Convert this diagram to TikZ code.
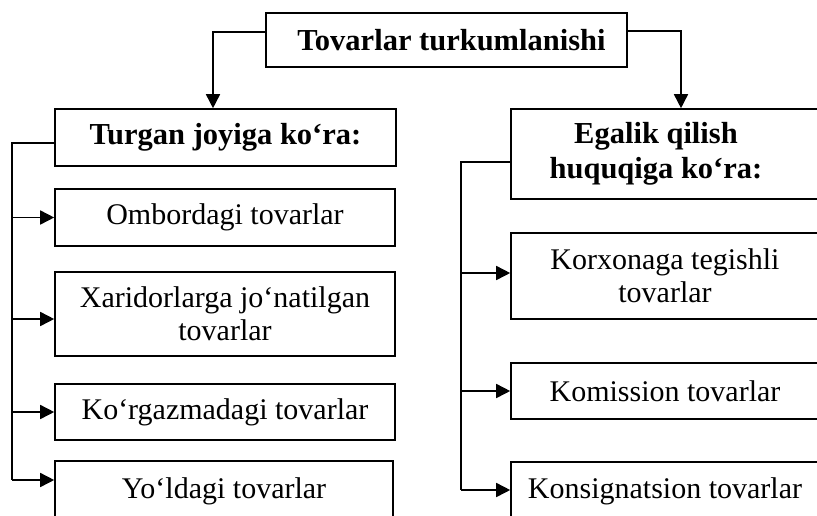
\documentclass[tikz,border=0pt]{standalone}
\usepackage{fontspec}
\setmainfont{Liberation Serif}
\usetikzlibrary{arrows.meta}
\begin{document}
\begin{tikzpicture}[x=1pt,y=-1pt,
  box/.style={draw,line width=1.6pt,rectangle,inner sep=0pt,align=center,
    font=\fontsize{30}{33}\selectfont},
  hbox/.style={box,font=\fontsize{30.5}{35}\selectfont\bfseries},
  htext/.style={inner sep=0pt,align=center,font=\fontsize{30.5}{35}\selectfont\bfseries},
  link/.style={line width=1.6pt},
  arr/.style={line width=1.6pt,-{Triangle[length=14pt,width=14pt]}}]
\useasboundingbox (0,0) rectangle (817,515);
\clip (0,0) rectangle (817,515);
% top
\node[hbox,minimum width=361pt,minimum height=54pt] (top) at (446.5,40) {};
\node[htext] (toptext) at ([xshift=5pt]top.center) {Tovarlar turkumlanishi};
% left column
\node[hbox,minimum width=341pt,minimum height=57pt] (lh) at (225.5,137.5) {Turgan joyiga ko‘ra:};
\node[box,minimum width=340pt,minimum height=57pt] (omb) at (225,217.5) {Ombordagi tovarlar};
\node[box,minimum width=340pt,minimum height=84pt] (xar) at (225,314) {Xaridorlarga jo‘natilgan\\tovarlar};
\node[box,minimum width=340pt,minimum height=56pt] (kor) at (225,412) {Ko‘rgazmadagi tovarlar};
\node[box,minimum width=338pt,minimum height=60pt] (yol) at (224,491) {Yo‘ldagi tovarlar};
% right column
\node[hbox,minimum width=308pt,minimum height=90pt] (rh) at (665,154) {};
\node[htext] (rhtext) at ([xshift=-9pt]rh.center) {Egalik qilish\\huquqiga ko‘ra:};
\node[box,minimum width=308pt,minimum height=86pt] (korx) at (665,276) {Korxonaga tegishli\\tovarlar};
\node[box,minimum width=308pt,minimum height=56pt] (kom) at (665,391) {Komission tovarlar};
\node[box,minimum width=308pt,minimum height=58pt] (kon) at (665,491) {Konsignatsion tovarlar};
% top connectors
\draw[arr] ([yshift=8pt]top.west) -| ([xshift=-12.5pt]lh.north);
\draw[arr] ([yshift=9pt]top.east) -| ([xshift=16pt]rh.north);
% left tree
\coordinate (Lb) at (12,480);
\draw[link] ([yshift=-5.5pt]lh.west) -| (Lb);
\draw[arr] (Lb |- omb.west) -- (omb.west);
\draw[arr] ([yshift=-5pt]Lb |- xar.west) -- ([yshift=-5pt]xar.west);
\draw[arr] (Lb |- kor.west) -- (kor.west);
\draw[arr] (Lb) -- (Lb -| yol.west);
% right tree
\coordinate (Rb) at (461,490);
\draw[link] ([yshift=-8pt]rh.west) -| (Rb);
\draw[arr] ([yshift=3pt]Rb |- korx.west) -- ([yshift=3pt]korx.west);
\draw[arr] (Rb |- kom.west) -- (kom.west);
\draw[arr] (Rb) -- (Rb -| kon.west);
\end{tikzpicture}
\end{document}
